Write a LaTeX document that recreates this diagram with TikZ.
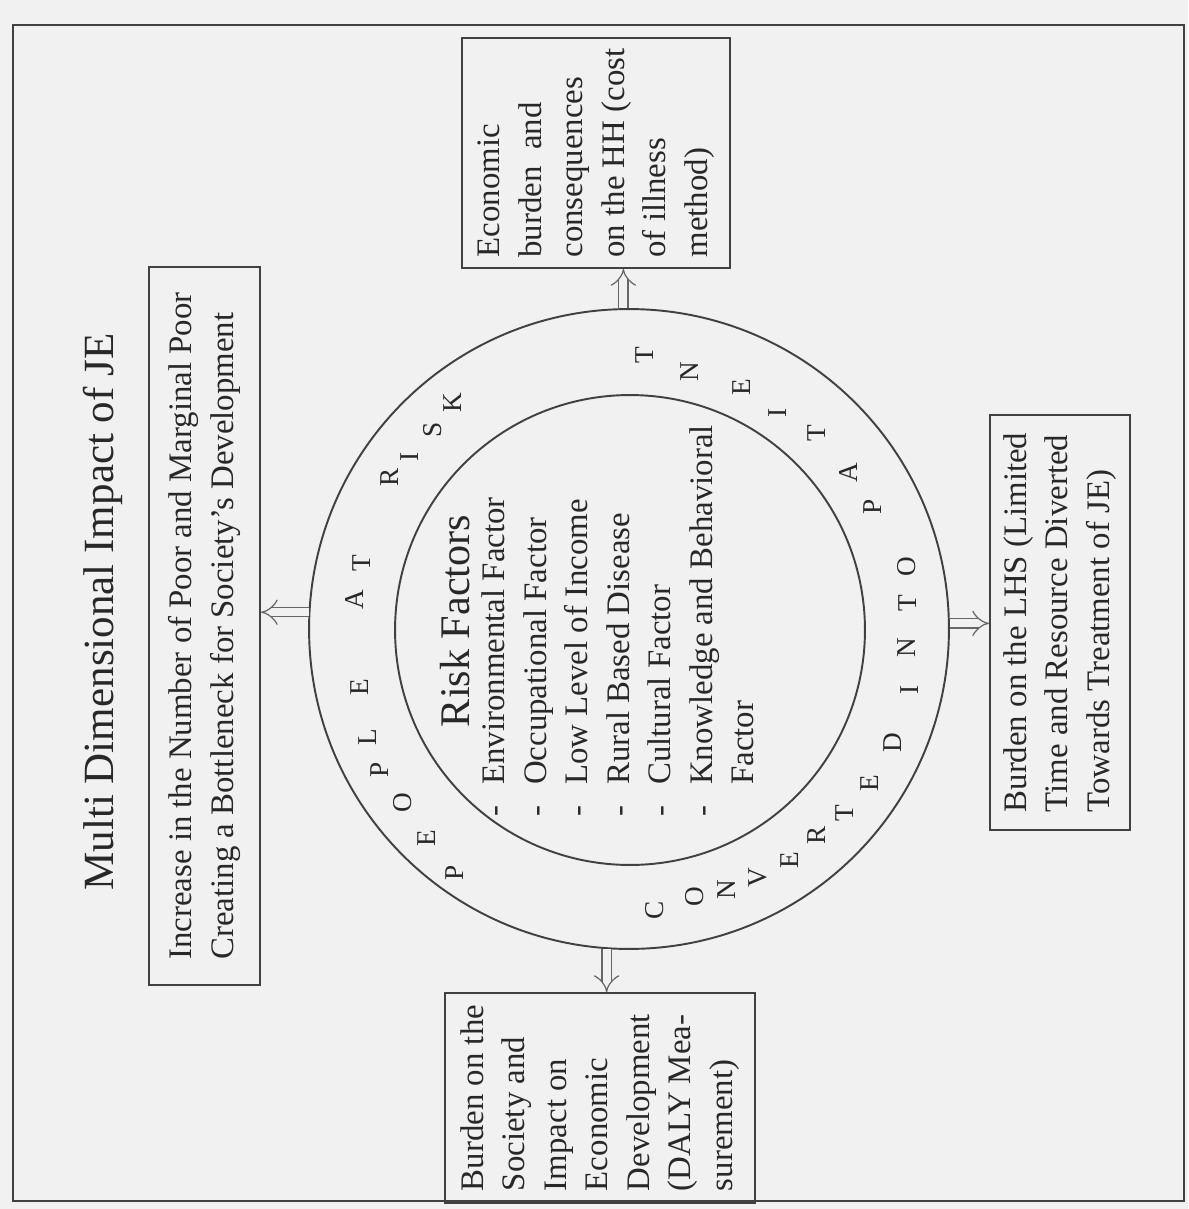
\documentclass[tikz,border=0pt]{standalone}
\usepackage{fontspec}
\setmainfont{Liberation Serif}
\usetikzlibrary{arrows.meta}
\definecolor{bgc}{RGB}{241,241,241}
\definecolor{linec}{RGB}{65,65,65}
\definecolor{inkc}{RGB}{40,40,40}
\newcommand\myBody{\fontsize{18.7}{23.6}\selectfont}
\newcommand\myTitle{\fontsize{24.5}{29}\selectfont}
\newcommand\myRisk{\fontsize{24}{29}\selectfont}
\newcommand\myRing{\fontsize{15.5}{18}\selectfont}
\begin{document}
\begin{tikzpicture}[x=0.02cm, y=-0.02cm,
  every node/.style={text=inkc},
  boxnode/.style={draw=linec, line width=1.1pt, rotate=90, align=left, inner sep=0pt, font=\myBody},
  ringletter/.style={rotate=90, font=\myRing, inner sep=0pt},
  ringline/.style={circle, draw=linec, line width=1.1pt, inner sep=0pt},
  hollow/.style={draw=linec!80, line width=0.7pt, double=bgc, double distance=4.5pt, -{Implies}},
]
\fill[bgc] (0,0) rectangle (1188,1209);
\useasboundingbox (0,0) rectangle (1188,1209);
\draw[linec, line width=1.2pt] (13,25) rectangle (1184,1201);

\node[rotate=90, font=\myTitle] (title) at (103,612) {Multi Dimensional Impact of JE};

\node[ringline, minimum size=12.8cm] (outer) at (629,629) {};
\node[ringline, minimum size=9.4cm] (inner) at (630,630) {};

\node[boxnode, minimum width=4.6cm, minimum height=5.36cm] (hh) at (596,153)
  {Economic\\burden\ \ and\\consequences\\on the HH (cost\\of illness\\method)};
\node[boxnode, minimum width=14.36cm, minimum height=2.22cm] (poor) at (204.5,626)
  {Increase in the Number of Poor and Marginal Poor\\Creating a Bottleneck for Society’s Development};
\node[boxnode, minimum width=4.2cm, minimum height=6.2cm] (daly) at (600,1098)
  {Burden on the\\Society and\\Impact on\\Economic\\Development\\(DALY Mea-\\surement)};
\node[boxnode, minimum width=8.3cm, minimum height=2.8cm] (lhs) at (1060,622.5)
  {Burden on the LHS (Limited\\Time and Resource Diverted\\Towards Treatment of JE)};

\node[rotate=90, font=\myRisk] (rtitle) at (455,621) {Risk Factors};
\node[rotate=90, font=\myBody, inner sep=0pt] (rlist) at (621,621)
  {\begin{tabular}{@{}l@{\hspace{12pt}}l@{}}
   -&Environmental Factor\\
   -&Occupational Factor\\
   -&Low Level of Income\\
   -&Rural Based Disease\\
   -&Cultural Factor\\
   -&Knowledge and Behavioral\\
    &Factor
   \end{tabular}};

\foreach \l/\x/\y [count=\i] in {P/455/873, E/427/838, O/403/803, P/380/770, L/368/737, E/360/687,
  A/355/600, T/362/563, R/390/477, I/410/457, S/433/430, K/453/403,
  T/645/355, N/690/372, E/742/387, I/778/413, T/817/433, A/848/473, P/873/507,
  O/907/567, T/908/603, N/907/648, I/910/690, D/893/743, E/870/783, T/845/813,
  R/817/835, E/790/860, V/758/878, N/727/890, O/695/897, C/655/910}
  \node[ringletter] (r\i) at (\x,\y) {\l};

\draw[hollow] (outer.91) -- (outer.91 |- hh.west);
\draw[hollow] (outer.177) -- (outer.177 -| poor.south);
\draw[hollow] (outer.266) -- (outer.266 |- daly.east);
\draw[hollow] (outer.1) -- (outer.1 -| lhs.north);
\end{tikzpicture}
\end{document}
